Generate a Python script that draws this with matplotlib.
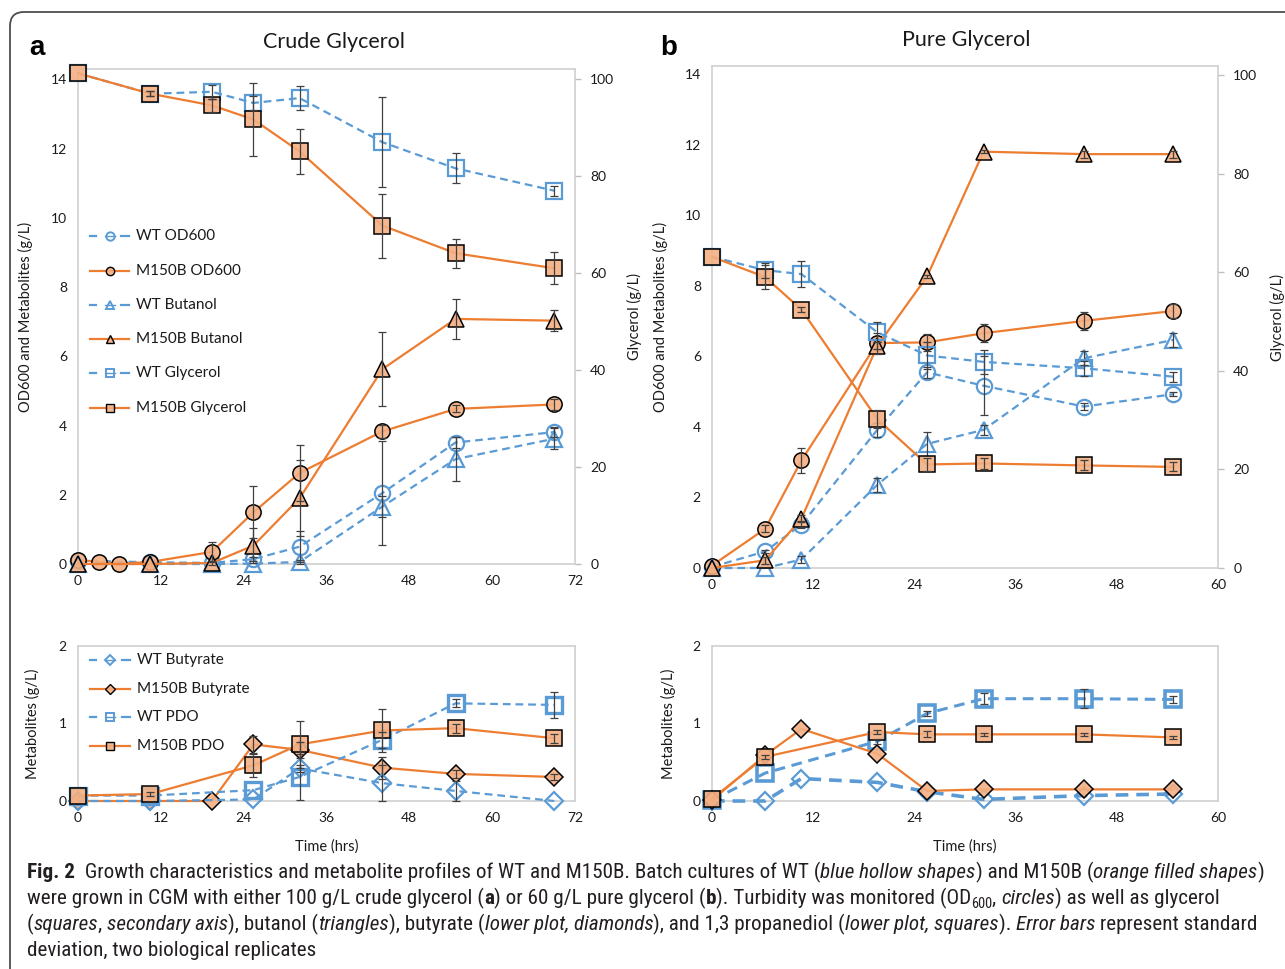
import matplotlib
matplotlib.use('Agg')
import numpy as np
import matplotlib.pyplot as plt
from matplotlib.lines import Line2D
from matplotlib.patches import FancyBboxPatch
from matplotlib.transforms import IdentityTransform
from matplotlib import font_manager

# ---------------- data ----------------
# Panel a: crude glycerol (top)
a_t_mod = [0, 3, 6, 10.5, 19.4, 25.4, 32.1, 44.1, 54.7, 69]
a_m_od = [0.12, 0.06, 0.01, 0.06, 0.35, 1.49, 2.63, 3.83, 4.48, 4.61]
a_m_od_err = [0, 0, 0, 0, 0.3, 0.75, 0.8, 0.2, 0.1, 0.15]

a_t = [0, 10.5, 19.4, 25.4, 32.1, 44.1, 54.7, 69]
a_w_od = [0.1, 0.05, 0.03, 0.14, 0.5, 2.05, 3.51, 3.81]
a_w_od_err = [0, 0, 0, 0.05, 0.45, 1.5, 0.15, 0.15]
a_m_bu = [0, 0, 0.03, 0.53, 1.90, 5.63, 7.08, 7.03]
a_m_bu_err = [0, 0, 0.05, 0.5, 1.1, 1.07, 0.57, 0.31]
a_w_bu = [0, 0, 0, 0.01, 0.06, 1.66, 3.03, 3.62]
a_w_bu_err = [0, 0, 0, 0, 0.05, 0.3, 0.63, 0.3]
a_w_gly = [101.2, 97.0, 97.4, 95.1, 96.1, 87.0, 81.6, 77.0]
a_w_gly_err = [0, 0.5, 1.5, 1.5, 2.4, 9.3, 3.1, 1.0]
a_m_gly = [101.2, 97.0, 94.6, 91.7, 85.1, 69.8, 64.1, 61.0]
a_m_gly_err = [0, 0.5, 1.4, 7.5, 4.6, 6.6, 3.0, 3.3]

# Panel a: lower (butyrate, PDO)
a_m_but = [0, 0, 0, 0.73, 0.66, 0.43, 0.35, 0.31]
a_m_but_err = [0, 0, 0, 0.11, 0.1, 0.14, 0.05, 0.04]
a_t2 = [0, 10.5, 25.4, 32.1, 44.1, 54.7, 69]
a_m_pdo = [0.07, 0.09, 0.46, 0.73, 0.91, 0.94, 0.81]
a_m_pdo_err = [0, 0.03, 0.15, 0.3, 0.28, 0.06, 0.06]
a_w_but = [0.0, 0.0, 0.02, 0.42, 0.23, 0.13, 0.0]
a_w_but_err = [0, 0, 0, 0.05, 0.23, 0.13, 0]
a_w_pdo = [0.07, 0.07, 0.14, 0.31, 0.79, 1.26, 1.24]
a_w_pdo_err = [0, 0, 0, 0.3, 0.1, 0.05, 0.17]

# Panel b: pure glycerol (top)
b_t = [0, 6.3, 10.6, 19.6, 25.5, 32.2, 44.1, 54.7]
b_m_od = [0.07, 1.11, 3.05, 6.38, 6.40, 6.66, 7.01, 7.29]
b_m_od_err = [0, 0.1, 0.35, 0.3, 0.25, 0.25, 0.25, 0.2]
b_w_od = [0.03, 0.47, 1.23, 3.92, 5.55, 5.17, 4.58, 4.93]
b_w_od_err = [0, 0.05, 0.1, 0.2, 0.15, 0.83, 0.1, 0.05]
b_m_bu = [0, 0.22, 1.4, 6.3, 8.27, 11.81, 11.74, 11.74]
b_m_bu_err = [0, 0.1, 0.1, 0.1, 0.05, 0.05, 0.1, 0.1]
b_w_bu = [0, 0, 0.24, 2.36, 3.52, 3.92, 5.95, 6.47]
b_w_bu_err = [0, 0, 0.1, 0.2, 0.35, 0.15, 0.2, 0.2]
b_w_gly = [63.1, 60.4, 59.6, 47.8, 43.1, 41.8, 40.5, 38.8]
b_w_gly_err = [0, 1.5, 2.7, 2.0, 2.7, 2.5, 1.5, 1.0]
b_m_gly = [63.1, 59.0, 52.4, 30.2, 21.0, 21.2, 20.8, 20.5]
b_m_gly_err = [0, 2.4, 0.5, 1.9, 1.3, 1.2, 1.0, 0.9]

# Panel b: lower
b_m_but = [0.01, 0.59, 0.93, 0.61, 0.13, 0.15, 0.15, 0.15]
b_t2 = [0, 6.3, 19.6, 25.5, 32.2, 44.1, 54.7]
b_m_pdo = [0.03, 0.57, 0.89, 0.86, 0.86, 0.86, 0.82]
b_m_pdo_err = [0, 0.03, 0.03, 0.04, 0.02, 0.02, 0.02]
b_w_pdo = [0.01, 0.36, 0.77, 1.13, 1.32, 1.32, 1.31]
b_w_pdo_err = [0, 0, 0.03, 0.03, 0.07, 0.12, 0.05]
b_w_but = [0, 0, 0.29, 0.24, 0.12, 0.02, 0.07, 0.09]

xt_a = [0, 12, 24, 36, 48, 60, 72]
xt_b = [0, 12, 24, 36, 48, 60]
yt_top = [0, 2, 4, 6, 8, 10, 12, 14]
yt_gly = [0, 20, 40, 60, 80, 100]
yt_low = [0, 1, 2]

legend_top = ["WT OD600", "M150B OD600", "WT Butanol", "M150B Butanol", "WT Glycerol", "M150B Glycerol"]
legend_low = ["WT Butyrate", "M150B Butyrate", "WT PDO", "M150B PDO"]

# ---------------- style ----------------
W, H = 1285, 969
names = {f.name for f in font_manager.fontManager.ttflist}
CF = 'Lato' if 'Lato' in names else 'DejaVu Sans'
plt.rcParams['font.family'] = [CF, 'DejaVu Sans']

ORANGE = '#ED7D31'
OFILL = (0.957, 0.69, 0.518, 0.9)
BLUE = '#5B9BD5'
EC = '#404040'
SPINE = '#D0D0D0'
TXT = '#1a1a1a'
DASH = (0, (3.5, 2.2))

fig = plt.figure(figsize=(W / 100, H / 100), dpi=100)


def rect(l, r, top, bot):
    return [l / W, 1 - bot / H, (r - l) / W, (bot - top) / H]


def fx(x):
    return x / W


def fy(y):
    return 1 - y / H


def style(ax, xt, yt, ylim):
    for s in ax.spines.values():
        s.set_color(SPINE)
        s.set_linewidth(1.2)
    ax.set_xlim(0, xt[-1])
    ax.set_xticks(xt)
    ax.set_ylim(*ylim)
    ax.set_yticks(yt)
    ax.tick_params(axis='both', length=0, labelsize=10, labelcolor=TXT, pad=8)
    ax.set_facecolor('white')


def style_right(ax2, yt, ylim):
    for s in ax2.spines.values():
        s.set_visible(False)
    ax2.set_ylim(*ylim)
    ax2.set_yticks(yt)
    ax2.tick_params(axis='y', length=4, width=1.0, color='#BFBFBF', labelsize=10,
                    labelcolor=TXT, pad=7)


def series(ax, t, v, err, wt, marker, ms, lw=1.6, mew=None, z=3):
    if wt:
        ax.plot(t, v, color=BLUE, lw=lw, ls=DASH, marker=marker, ms=ms, mfc='none',
                mec=BLUE, mew=mew or 1.6, zorder=z, clip_on=False)
    else:
        ax.plot(t, v, color=ORANGE, lw=lw, marker=marker, ms=ms, mfc=OFILL,
                mec='black', mew=mew or 1.1, zorder=z, clip_on=False)
    if err is not None:
        tt = [a for a, e in zip(t, err) if e > 0]
        vv = [b for b, e in zip(v, err) if e > 0]
        ee = [e for e in err if e > 0]
        if tt:
            ax.errorbar(tt, vv, yerr=ee, fmt='none', ecolor=EC, elinewidth=0.9,
                        capsize=3, capthick=0.9, zorder=z + 5, clip_on=False)


# ---------------- panel a top ----------------
axA = fig.add_axes(rect(78, 575, 69, 564))
style(axA, xt_a, yt_top, (0, 14.30))
axA2 = axA.twinx()
style_right(axA2, yt_gly, (0, 102.1))
series(axA, a_t, a_w_od, a_w_od_err, True, 'o', 11)
series(axA, a_t_mod, a_m_od, a_m_od_err, False, 'o', 11)
series(axA, a_t, a_w_bu, a_w_bu_err, True, '^', 12)
series(axA, a_t, a_m_bu, a_m_bu_err, False, '^', 12)
series(axA2, a_t, a_w_gly, a_w_gly_err, True, 's', 11.5)
series(axA2, a_t, a_m_gly, a_m_gly_err, False, 's', 11.5)
axA.set_ylabel("OD600 and Metabolites (g/L)", fontsize=10.5, color=TXT)
axA.yaxis.set_label_coords(-0.0905, 0.5)
axA2.set_ylabel("Glycerol (g/L)", fontsize=10.5, color=TXT)
axA2.yaxis.set_label_coords(1.105, 0.5)

# ---------------- panel b top ----------------
axB = fig.add_axes(rect(712, 1218, 66, 568))
style(axB, xt_b, yt_top, (0, 14.24))
axB2 = axB.twinx()
style_right(axB2, yt_gly, (0, 101.8))
series(axB, b_t, b_w_od, b_w_od_err, True, 'o', 11)
series(axB, b_t, b_m_od, b_m_od_err, False, 'o', 11)
series(axB, b_t, b_w_bu, b_w_bu_err, True, '^', 12)
series(axB, b_t, b_m_bu, b_m_bu_err, False, '^', 12)
series(axB2, b_t, b_w_gly, b_w_gly_err, True, 's', 11.5)
series(axB2, b_t, b_m_gly, b_m_gly_err, False, 's', 11.5)
axB.set_ylabel("OD600 and Metabolites (g/L)", fontsize=10.5, color=TXT)
axB.yaxis.set_label_coords(-0.087, 0.5)
axB2.set_ylabel("Glycerol (g/L)", fontsize=10.5, color=TXT)
axB2.yaxis.set_label_coords(1.103, 0.5)

# ---------------- lower panels ----------------
axC = fig.add_axes(rect(78, 575, 646, 801))
style(axC, xt_a, yt_low, (0, 2))
series(axC, a_t, a_m_but, a_m_but_err, False, 'D', 9)
series(axC, a_t2, a_w_but, a_w_but_err, True, 'D', 9)
series(axC, a_t2, a_w_pdo, a_w_pdo_err, True, 's', 11, mew=2.4)
series(axC, a_t2, a_m_pdo, a_m_pdo_err, False, 's', 12)
axC.set_ylabel("Metabolites (g/L)", fontsize=10.5, color=TXT)
axC.yaxis.set_label_coords(-0.0765, 0.5)
axC.set_xlabel("Time (hrs)", fontsize=10.5, color=TXT)
axC.xaxis.set_label_coords(0.5, -0.25)

axD = fig.add_axes(rect(712, 1218, 646, 801))
style(axD, xt_b, yt_low, (0, 2))
series(axD, b_t, b_w_but, None, True, 'D', 9, lw=2.6)
series(axD, b_t2, b_w_pdo, b_w_pdo_err, True, 's', 11, lw=2.2, mew=2.6)
series(axD, b_t, b_m_but, None, False, 'D', 9)
series(axD, b_t2, b_m_pdo, b_m_pdo_err, False, 's', 12)
axD.set_ylabel("Metabolites (g/L)", fontsize=10.5, color=TXT)
axD.yaxis.set_label_coords(-0.071, 0.5)
axD.set_xlabel("Time (hrs)", fontsize=10.5, color=TXT)
axD.xaxis.set_label_coords(0.5, -0.25)

# ---------------- titles, panel letters ----------------
fig.text(fx(334), fy(42), "Crude Glycerol", fontsize=15.5, ha='center', va='center', color=TXT)
fig.text(fx(966), fy(40), "Pure Glycerol", fontsize=15.5, ha='center', va='center', color=TXT)
fig.text(fx(37), fy(48), "a", fontsize=20, fontweight='bold', ha='center', va='center',
         family=['Liberation Sans', 'DejaVu Sans'], color='black')
fig.text(fx(669), fy(48), "b", fontsize=20, fontweight='bold', ha='center', va='center',
         family=['Liberation Sans', 'DejaVu Sans'], color='black')


# ---------------- legends (drawn as figure artists) ----------------
def legend_entry(x0, x1, y, wt, marker, label, ms=6):
    xm = (x0 + x1) / 2
    if wt:
        for a, b in ((x0, x0 + 6), (x1 - 8, x1)):
            fig.add_artist(Line2D([fx(a), fx(b)], [fy(y), fy(y)], transform=fig.transFigure,
                                  color=BLUE, lw=1.6))
        fig.add_artist(Line2D([fx(xm - 5), fx(xm + 5)], [fy(y), fy(y)], transform=fig.transFigure,
                              color=BLUE, lw=1.0))
        fig.add_artist(Line2D([fx(xm)], [fy(y)], transform=fig.transFigure, ls='none',
                              marker=marker, ms=ms, mfc='none', mec=BLUE, mew=1.4))
    else:
        fig.add_artist(Line2D([fx(x0), fx(x1)], [fy(y), fy(y)], transform=fig.transFigure,
                              color=ORANGE, lw=1.6))
        fig.add_artist(Line2D([fx(xm)], [fy(y)], transform=fig.transFigure, ls='none',
                              marker=marker, ms=ms, mfc=OFILL, mec='black', mew=1.0))
    fig.text(fx(x1 + 7), fy(y), label, fontsize=11, ha='left', va='center', color=TXT)


top_ys = [236, 271, 305, 339, 373, 408]
top_mk = ['o', 'o', '^', '^', 's', 's']
for lab, yy, mk, i in zip(legend_top, top_ys, top_mk, range(6)):
    legend_entry(90, 129, yy, i % 2 == 0, mk, lab)

low_ys = [660, 689, 717, 746]
low_mk = ['D', 'D', 's', 's']
for lab, yy, mk, i in zip(legend_low, low_ys, low_mk, range(4)):
    legend_entry(90, 130, yy, i % 2 == 0, mk, lab, ms=6 if mk == 's' else 5.5)

# ---------------- outer frame ----------------
frame = FancyBboxPatch((10, -30), 1400, H - 12 + 30,
                       boxstyle='round,pad=0,rounding_size=14',
                       transform=IdentityTransform(), fill=False, ec='#4d4d4d', lw=1.3)
fig.add_artist(frame)

# ---------------- caption ----------------
cap_font = None
for cand in ['Liberation Sans Narrow', 'Roboto Condensed', 'Open Sans Condensed', 'Noto Sans',
             'Liberation Sans']:
    if cand in names:
        cap_font = cand
        break
if cap_font is None:
    cap_font = 'DejaVu Sans'

caption = [
    [("Fig. 2", 'b'), (" ", 'n'), (" Growth characteristics and metabolite profiles of WT and M150B. Batch cultures of WT (", 'n'),
     ("blue hollow shapes", 'i'), (") and M150B (", 'n'), ("orange filled shapes", 'i'), (")", 'n')],
    [("were grown in CGM with either 100 g/L crude glycerol (", 'n'), ("a", 'b'),
     (") or 60 g/L pure glycerol (", 'n'), ("b", 'b'),
     ("). Turbidity was monitored (OD", 'n'), ("600", 's'), (", ", 'n'), ("circles", 'i'),
     (") as well as glycerol", 'n')],
    [("(", 'n'), ("squares", 'i'), (", ", 'n'), ("secondary axis", 'i'), ("), butanol (", 'n'),
     ("triangles", 'i'), ("), butyrate (", 'n'), ("lower plot, diamonds", 'i'),
     ("), and 1,3 propanediol (", 'n'), ("lower plot, squares", 'i'), ("). ", 'n'),
     ("Error bars", 'i'), (" represent standard", 'n')],
    [("deviation, two biological replicates", 'n')],
]

renderer = fig.canvas.get_renderer()


def seg_props(kind, fs):
    p = dict(family=[cap_font, 'DejaVu Sans'], fontsize=fs, color='#231F20')
    if kind == 'b':
        p['fontweight'] = 'bold'
    if kind == 'i':
        p['fontstyle'] = 'italic'
    if kind == 's':
        p['fontsize'] = fs * 0.68
    return p


def seg_width(s, kind, fs):
    t1 = fig.text(0, 0, "|" + s + "|", **seg_props(kind, fs))
    t2 = fig.text(0, 0, "||", **seg_props(kind, fs))
    w = t1.get_window_extent(renderer).width - t2.get_window_extent(renderer).width
    t1.remove()
    t2.remove()
    return w


base_fs = 13
w1 = sum(seg_width(s, k, base_fs) for s, k in caption[0])
fs = base_fs * (1262 - 27) / w1
baselines = [878, 904, 930, 956]
for line, yb in zip(caption, baselines):
    x = 27
    for s, k in line:
        dy = 4 if k == 's' else 0
        fig.text(fx(x), fy(yb + dy), s, ha='left', va='baseline', **seg_props(k, fs))
        x += seg_width(s, k, fs)

fig.savefig('out.png', dpi=100)
